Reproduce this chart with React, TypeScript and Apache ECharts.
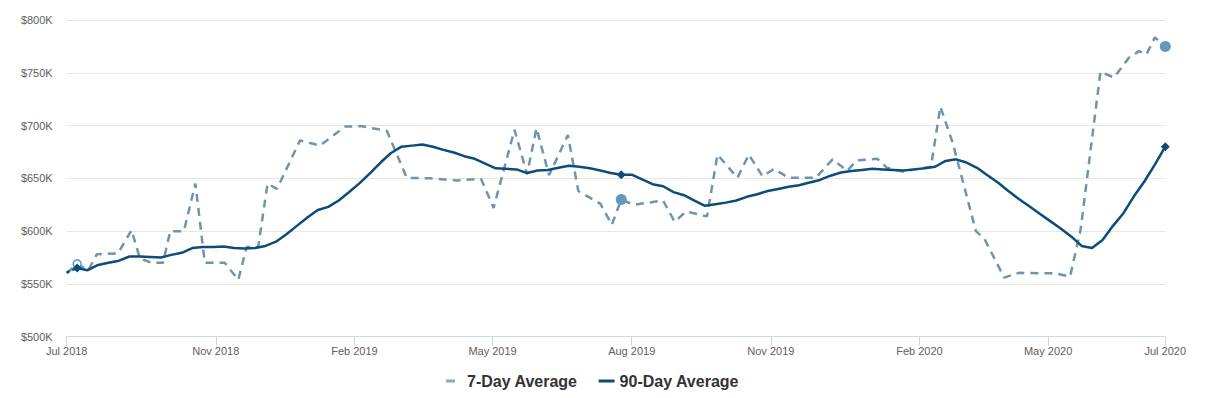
import React, { useEffect, useRef } from "react";
import * as echarts from "echarts";

// x axis is measured in weeks from the start (0 = Jul 2018 tick)
const tickWeeks = [0, 14.25, 27.5, 40.7, 54.0, 67.3, 81.5, 93.8, 105];
const tickLabels = [
  "Jul 2018",
  "Nov 2018",
  "Feb 2019",
  "May 2019",
  "Aug 2019",
  "Nov 2019",
  "Feb 2020",
  "May 2020",
  "Jul 2020",
];

const yMin = 500;
const yMax = 800;
const yStep = 50;

// 90-Day Average, one value per week (weeks 0..105), in $K
const ninetyDay = [
  561, 565, 563, 568, 570, 572, 576, 576, 575.5, 575,
  577.5, 579.5, 584, 585, 585, 585.5, 584, 583.5, 584, 586,
  590, 597, 605, 613, 620, 623, 629, 637, 645.5, 655,
  665, 674, 680, 681, 682, 680, 677, 674.5, 671, 668.5,
  664, 659.5, 659, 658.5, 655, 657.5, 658, 660, 662, 661,
  659.5, 657.5, 655, 653.5, 653.5, 649, 644.5, 642.5, 637, 634,
  629, 624, 625.5, 627, 629, 632.5, 635, 638, 640, 642,
  643.5, 646, 648.5, 652.5, 655.5, 657, 658, 659, 658.5, 658,
  657.5, 658.5, 659.5, 661, 666.5, 668, 665, 660, 653, 646,
  638, 630.5, 623.5, 616.5, 609.5, 602.5, 595, 586, 584, 591.5,
  605, 617, 633, 647, 663, 680,
];

// 7-Day Average, readings at irregular week positions, in $K
const sevenDayWeeks = [
  0, 1, 2.07, 2.87, 4.9, 6.2, 7.0, 8.1, 9.2, 9.9,
  11.2, 12.3, 13.2, 15.1, 16.4, 17.2, 18.3, 19.2, 20.1, 22.3,
  24.2, 26.6, 28.1, 30.6, 32.5, 34.7, 37.3, 39.6, 40.8, 42.8,
  44.0, 44.9, 46.1, 47.9, 48.9, 51.0, 52.1, 53, 54.2, 57.0,
  58.1, 59.2, 61.2, 62.2, 64.1, 65.2, 66.5, 67.6, 69.0, 71.6,
  73.2, 74.6, 75.5, 77.5, 78.4, 79.9, 82.6, 83.5, 84.7, 86.9,
  87.7, 89.6, 91.0, 93.1, 94.5, 95.9, 96.9, 98.8, 100.1, 101.5,
  102.5, 103.2, 104.0, 105,
];
const sevenDay = [
  560, 569, 563, 578, 579, 601, 574, 570, 570, 600,
  600, 645, 570, 570, 554, 585, 585, 645, 640, 686,
  681, 699, 699.5, 695, 650.5, 650, 648, 649.5, 622, 696,
  654, 697.5, 653, 691, 638, 626, 606, 630, 625, 629,
  609, 618.5, 614, 672.5, 650.5, 672.5, 652, 659, 650.5, 650.5,
  668, 657, 667, 668.5, 660, 656.5, 661, 718, 683, 600,
  593, 556, 560.5, 560, 560, 557, 601, 751, 745.5, 764,
  770.5, 767.5, 783.5, 775,
];

const markerWeeks = [1, 53, 105];

const SEVEN_COLOR = "#6f95ad";
const SEVEN_MARKER = "#6399bc";
const NINETY_COLOR = "#0d4c7a";

export default function App() {
  const ref = useRef<HTMLDivElement>(null);

  useEffect(() => {
    if (!ref.current) return;
    const chart = echarts.init(ref.current, null, { renderer: "svg" });

    const sevenData = sevenDayWeeks.map((w, i) => {
      const v = [w, sevenDay[i]];
      const m = markerWeeks.indexOf(w);
      if (m === 0) {
        return {
          value: v,
          symbol: "circle",
          symbolSize: 8,
          itemStyle: { color: "#ffffff", borderColor: SEVEN_MARKER, borderWidth: 1.5 },
        };
      }
      if (m > 0) {
        return {
          value: v,
          symbol: "circle",
          symbolSize: 11,
          itemStyle: { color: SEVEN_MARKER, borderWidth: 0 },
        };
      }
      return v;
    });

    const ninetyData = ninetyDay
      .map((v, i) => [i, v])
      .slice(1)
      .map((v) =>
        markerWeeks.indexOf(v[0]) >= 0
          ? {
              value: v,
              symbol: "diamond",
              symbolSize: 9,
              itemStyle: { color: NINETY_COLOR, borderWidth: 0 },
            }
          : v
      );

    const ninetyLead = ninetyDay.slice(0, 2).map((v, i) => [i, v]);

    chart.setOption({
      animation: false,
      backgroundColor: "#ffffff",
      grid: { left: 66.7, right: 49.7, top: 20, bottom: 61.3, containLabel: false },
      legend: {
        left: 441,
        top: 368,
        itemGap: 21,
        itemWidth: 16,
        itemHeight: 3,
        itemStyle: { borderWidth: 0 },
        textStyle: {
          fontFamily: "'Liberation Sans', Arial, sans-serif",
          fontSize: 16,
          fontWeight: "bold",
          color: "#333333",
        },
        data: [
          {
            name: "7-Day Average",
            icon: "path://M0 0H9V3H0Z M16 0L16 3",
            itemStyle: { color: "#88aac0", borderWidth: 0 },
          },
          {
            name: "90-Day Average",
            icon: "rect",
            itemStyle: { color: NINETY_COLOR, borderWidth: 0 },
          },
        ],
      },
      xAxis: {
        type: "value",
        min: 0,
        max: 105,
        axisLine: { show: true, lineStyle: { color: "#ccd6eb", width: 1 } },
        axisTick: {
          show: true,
          customValues: tickWeeks,
          length: 9,
          lineStyle: { color: "#ccd6eb", width: 1 },
        },
        axisLabel: {
          customValues: tickWeeks,
          margin: 9,
          fontSize: 11,
          color: "#606060",
          fontFamily: "'Liberation Sans', Arial, sans-serif",
          formatter: (val: number) => {
            const i = tickWeeks.findIndex((t) => Math.abs(t - val) < 1e-6);
            return i >= 0 ? tickLabels[i] : "";
          },
        },
        splitLine: { show: false },
      },
      yAxis: {
        type: "value",
        min: yMin,
        max: yMax,
        interval: yStep,
        axisLine: { show: false },
        axisTick: { show: false },
        axisLabel: {
          margin: 14,
          fontSize: 11,
          color: "#606060",
          padding: [6, 0, 0, 0],
          fontFamily: "'Liberation Sans', Arial, sans-serif",
          formatter: (v: number) => "$" + v + "K",
        },
        splitLine: { show: true, lineStyle: { color: "#e6e6e6", width: 1 } },
      },
      series: [
        {
          name: "7-Day Average",
          type: "line",
          data: sevenData,
          symbol: "none",
          showSymbol: true,
          color: SEVEN_COLOR,
          lineStyle: { color: SEVEN_COLOR, width: 2.5, type: [8, 6] },
          z: 2,
        },
        {
          name: "90-Day lead",
          type: "line",
          data: ninetyLead,
          symbol: "none",
          lineStyle: { color: NINETY_COLOR, width: 2.5, type: [3, 3] },
          z: 3,
        },
        {
          name: "90-Day Average",
          type: "line",
          data: ninetyData,
          symbol: "none",
          showSymbol: true,
          color: NINETY_COLOR,
          lineStyle: { color: NINETY_COLOR, width: 2.5 },
          z: 4,
        },
      ],
    });

    return () => chart.dispose();
  }, []);

  return (
    <div
      ref={ref}
      style={{ position: "absolute", left: 0, top: 0, width: 1215, height: 398 }}
    />
  );
}
